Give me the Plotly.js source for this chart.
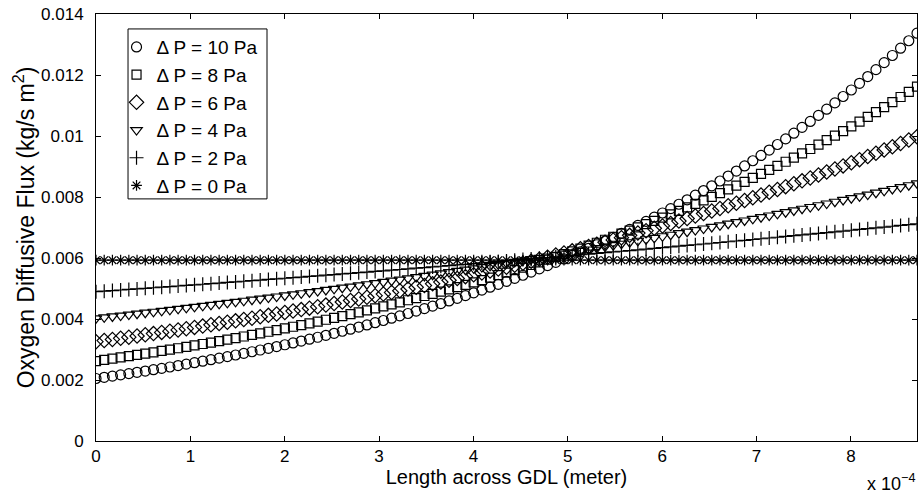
<!DOCTYPE html>
<html>
<head>
<meta charset="utf-8">
<script src="https://cdn.plot.ly/plotly-3.0.1.min.js"></script>
<style>html,body{margin:0;padding:0;background:#fff;}#chart{width:921px;height:497px;}</style>
</head>
<body>
<div id="chart"></div>
<script>
// Length across GDL (meter)
const xLength = [0, 8.7e-6, 1.74e-5, 2.61e-5, 3.48e-5, 4.35e-5, 5.22e-5, 6.09e-5, 6.96e-5, 7.83e-5, 8.7e-5,
9.57e-5, 1.044e-4, 1.131e-4, 1.218e-4, 1.305e-4, 1.392e-4, 1.479e-4, 1.566e-4, 1.653e-4, 1.74e-4,
1.827e-4, 1.914e-4, 2.001e-4, 2.088e-4, 2.175e-4, 2.262e-4, 2.349e-4, 2.436e-4, 2.523e-4, 2.61e-4,
2.697e-4, 2.784e-4, 2.871e-4, 2.958e-4, 3.045e-4, 3.132e-4, 3.219e-4, 3.306e-4, 3.393e-4, 3.48e-4,
3.567e-4, 3.654e-4, 3.741e-4, 3.828e-4, 3.915e-4, 4.002e-4, 4.089e-4, 4.176e-4, 4.263e-4, 4.35e-4,
4.437e-4, 4.524e-4, 4.611e-4, 4.698e-4, 4.785e-4, 4.872e-4, 4.959e-4, 5.046e-4, 5.133e-4, 5.22e-4,
5.307e-4, 5.394e-4, 5.481e-4, 5.568e-4, 5.655e-4, 5.742e-4, 5.829e-4, 5.916e-4, 6.003e-4, 6.09e-4,
6.177e-4, 6.264e-4, 6.351e-4, 6.438e-4, 6.525e-4, 6.612e-4, 6.699e-4, 6.786e-4, 6.873e-4, 6.96e-4,
7.047e-4, 7.134e-4, 7.221e-4, 7.308e-4, 7.395e-4, 7.482e-4, 7.569e-4, 7.656e-4, 7.743e-4, 7.83e-4,
7.917e-4, 8.004e-4, 8.091e-4, 8.178e-4, 8.265e-4, 8.352e-4, 8.439e-4, 8.526e-4, 8.613e-4, 8.7e-4];

// Oxygen diffusive flux (kg/s m^2), one array per pressure difference
const fluxP10 = [0.002050, 0.002089, 0.002128, 0.002169, 0.002210, 0.002252, 0.002294, 0.002338, 0.002382, 0.002427, 0.002473,
0.002520, 0.002568, 0.002616, 0.002666, 0.002716, 0.002767, 0.002820, 0.002873, 0.002927, 0.002983,
0.003039, 0.003097, 0.003155, 0.003215, 0.003276, 0.003338, 0.003401, 0.003465, 0.003531, 0.003598,
0.003666, 0.003735, 0.003806, 0.003878, 0.003951, 0.004026, 0.004102, 0.004180, 0.004259, 0.004340,
0.004422, 0.004506, 0.004591, 0.004678, 0.004766, 0.004857, 0.004949, 0.005042, 0.005138, 0.005235,
0.005334, 0.005435, 0.005538, 0.005643, 0.005750, 0.005859, 0.005970, 0.006083, 0.006198, 0.006315,
0.006435, 0.006557, 0.006681, 0.006807, 0.006936, 0.007067, 0.007201, 0.007337, 0.007476, 0.007618,
0.007762, 0.007909, 0.008059, 0.008211, 0.008367, 0.008525, 0.008686, 0.008851, 0.009018, 0.009189,
0.009363, 0.009540, 0.009721, 0.009905, 0.010092, 0.010283, 0.010478, 0.010676, 0.010878, 0.011085,
0.011295, 0.011509, 0.011727, 0.011949, 0.012175, 0.012405, 0.012640, 0.012879, 0.013123, 0.013371];

const fluxP8 = [0.002620, 0.002659, 0.002699, 0.002740, 0.002781, 0.002823, 0.002865, 0.002908, 0.002952, 0.002996, 0.003041,
0.003087, 0.003133, 0.003180, 0.003228, 0.003276, 0.003325, 0.003375, 0.003426, 0.003477, 0.003529,
0.003582, 0.003636, 0.003691, 0.003746, 0.003802, 0.003859, 0.003917, 0.003976, 0.004036, 0.004096,
0.004158, 0.004220, 0.004283, 0.004348, 0.004413, 0.004479, 0.004546, 0.004614, 0.004684, 0.004754,
0.004825, 0.004898, 0.004971, 0.005046, 0.005121, 0.005198, 0.005276, 0.005355, 0.005436, 0.005518,
0.005601, 0.005685, 0.005770, 0.005857, 0.005945, 0.006034, 0.006124, 0.006216, 0.006310, 0.006404,
0.006500, 0.006598, 0.006697, 0.006797, 0.006899, 0.007003, 0.007108, 0.007214, 0.007323, 0.007432,
0.007544, 0.007657, 0.007772, 0.007889, 0.008007, 0.008127, 0.008249, 0.008373, 0.008499, 0.008626,
0.008756, 0.008887, 0.009020, 0.009156, 0.009293, 0.009433, 0.009574, 0.009718, 0.009864, 0.010011,
0.010162, 0.010314, 0.010469, 0.010626, 0.010786, 0.010948, 0.011112, 0.011279, 0.011448, 0.011619];

const fluxP6 = [0.003256, 0.003293, 0.003330, 0.003367, 0.003405, 0.003443, 0.003482, 0.003521, 0.003561, 0.003601, 0.003642,
0.003683, 0.003725, 0.003767, 0.003809, 0.003852, 0.003895, 0.003939, 0.003983, 0.004028, 0.004073,
0.004119, 0.004165, 0.004212, 0.004260, 0.004308, 0.004356, 0.004405, 0.004455, 0.004505, 0.004556,
0.004607, 0.004659, 0.004711, 0.004764, 0.004818, 0.004872, 0.004927, 0.004983, 0.005039, 0.005096,
0.005153, 0.005211, 0.005270, 0.005329, 0.005389, 0.005450, 0.005511, 0.005573, 0.005636, 0.005700,
0.005764, 0.005829, 0.005894, 0.005961, 0.006028, 0.006096, 0.006164, 0.006234, 0.006304, 0.006375,
0.006447, 0.006519, 0.006593, 0.006667, 0.006742, 0.006818, 0.006895, 0.006972, 0.007051, 0.007130,
0.007210, 0.007292, 0.007374, 0.007457, 0.007541, 0.007626, 0.007712, 0.007798, 0.007886, 0.007975,
0.008065, 0.008155, 0.008247, 0.008340, 0.008434, 0.008529, 0.008625, 0.008722, 0.008820, 0.008920,
0.009020, 0.009122, 0.009225, 0.009329, 0.009434, 0.009540, 0.009647, 0.009756, 0.009866, 0.009977];

const fluxP4 = [0.004023, 0.004053, 0.004083, 0.004113, 0.004144, 0.004175, 0.004206, 0.004237, 0.004269, 0.004301, 0.004333,
0.004365, 0.004398, 0.004431, 0.004464, 0.004497, 0.004530, 0.004564, 0.004598, 0.004632, 0.004667,
0.004702, 0.004737, 0.004772, 0.004808, 0.004844, 0.004880, 0.004916, 0.004953, 0.004990, 0.005026,
0.005064, 0.005102, 0.005140, 0.005178, 0.005216, 0.005255, 0.005294, 0.005334, 0.005373, 0.005413,
0.005453, 0.005494, 0.005535, 0.005576, 0.005618, 0.005660, 0.005702, 0.005744, 0.005787, 0.005830,
0.005873, 0.005917, 0.005961, 0.006005, 0.006050, 0.006095, 0.006141, 0.006186, 0.006232, 0.006279,
0.006326, 0.006373, 0.006421, 0.006468, 0.006517, 0.006565, 0.006614, 0.006663, 0.006713, 0.006763,
0.006813, 0.006864, 0.006915, 0.006967, 0.007019, 0.007071, 0.007124, 0.007177, 0.007230, 0.007284,
0.007338, 0.007393, 0.007448, 0.007503, 0.007559, 0.007615, 0.007672, 0.007729, 0.007787, 0.007845,
0.007903, 0.007962, 0.008021, 0.008081, 0.008141, 0.008202, 0.008263, 0.008324, 0.008386, 0.008450];

const fluxP2 = [0.004895, 0.004913, 0.004932, 0.004950, 0.004969, 0.004987, 0.005006, 0.005025, 0.005044, 0.005063, 0.005082,
0.005101, 0.005120, 0.005139, 0.005159, 0.005178, 0.005198, 0.005217, 0.005237, 0.005256, 0.005276,
0.005296, 0.005316, 0.005336, 0.005356, 0.005376, 0.005396, 0.005416, 0.005437, 0.005457, 0.005477,
0.005498, 0.005518, 0.005539, 0.005560, 0.005581, 0.005602, 0.005623, 0.005644, 0.005665, 0.005686,
0.005708, 0.005729, 0.005751, 0.005772, 0.005794, 0.005816, 0.005837, 0.005859, 0.005881, 0.005904,
0.005926, 0.005948, 0.005970, 0.005993, 0.006015, 0.006038, 0.006061, 0.006084, 0.006106, 0.006129,
0.006152, 0.006175, 0.006198, 0.006222, 0.006245, 0.006269, 0.006292, 0.006316, 0.006340, 0.006363,
0.006387, 0.006411, 0.006435, 0.006459, 0.006483, 0.006508, 0.006532, 0.006557, 0.006581, 0.006606,
0.006631, 0.006656, 0.006681, 0.006706, 0.006731, 0.006756, 0.006782, 0.006807, 0.006833, 0.006858,
0.006884, 0.006910, 0.006936, 0.006962, 0.006988, 0.007014, 0.007041, 0.007067, 0.007094, 0.007120];

const fluxP0 = [0.00593, 0.00593, 0.00593, 0.00593, 0.00593, 0.00593, 0.00593, 0.00593, 0.00593, 0.00593, 0.00593,
0.00593, 0.00593, 0.00593, 0.00593, 0.00593, 0.00593, 0.00593, 0.00593, 0.00593, 0.00593,
0.00593, 0.00593, 0.00593, 0.00593, 0.00593, 0.00593, 0.00593, 0.00593, 0.00593, 0.00593,
0.00593, 0.00593, 0.00593, 0.00593, 0.00593, 0.00593, 0.00593, 0.00593, 0.00593, 0.00593,
0.00593, 0.00593, 0.00593, 0.00593, 0.00593, 0.00593, 0.00593, 0.00593, 0.00593, 0.00593,
0.00593, 0.00593, 0.00593, 0.00593, 0.00593, 0.00593, 0.00593, 0.00593, 0.00593, 0.00593,
0.00593, 0.00593, 0.00593, 0.00593, 0.00593, 0.00593, 0.00593, 0.00593, 0.00593, 0.00593,
0.00593, 0.00593, 0.00593, 0.00593, 0.00593, 0.00593, 0.00593, 0.00593, 0.00593, 0.00593,
0.00593, 0.00593, 0.00593, 0.00593, 0.00593, 0.00593, 0.00593, 0.00593, 0.00593, 0.00593,
0.00593, 0.00593, 0.00593, 0.00593, 0.00593, 0.00593, 0.00593, 0.00593, 0.00593, 0.00593];

const seriesNames = ['\u0394 P = 10 Pa', '\u0394 P = 8 Pa', '\u0394 P = 6 Pa', '\u0394 P = 4 Pa', '\u0394 P = 2 Pa', '\u0394 P = 0 Pa'];
const seriesData = [fluxP10, fluxP8, fluxP6, fluxP4, fluxP2, fluxP0];
const seriesSymbols = ['circle-open', 'square-open', 'diamond-open', 'triangle-down-open', 'cross-thin-open', 'asterisk-open'];
const seriesSizes = [10, 9, 11, 10, 10, 9];

const xTickVals = [0, 1e-4, 2e-4, 3e-4, 4e-4, 5e-4, 6e-4, 7e-4, 8e-4];
const xTickText = ['0', '1', '2', '3', '4', '5', '6', '7', '8'];
const yTickVals = [0, 0.002, 0.004, 0.006, 0.008, 0.01, 0.012, 0.014];
const yTickText = ['0', '0.002', '0.004', '0.006', '0.008', '0.01', '0.012', '0.014'];

const traces = seriesData.map((y, i) => ({
  type: 'scatter',
  mode: 'markers',
  x: xLength,
  y: y,
  name: seriesNames[i],
  marker: {
    symbol: seriesSymbols[i],
    size: seriesSizes[i],
    color: '#000',
    line: {color: '#000', width: 1.2}
  }
}));

const font = 'Liberation Sans, Arial, Helvetica, sans-serif';
const layout = {
  width: 921, height: 497,
  margin: {l: 96, r: 4, t: 14, b: 56},
  paper_bgcolor: '#fff', plot_bgcolor: '#fff',
  font: {family: font, size: 17, color: '#000'},
  showlegend: true,
  legend: {
    x: 0.025, y: 0.967, xanchor: 'left', yanchor: 'top',
    bgcolor: 'rgba(0,0,0,0)', borderwidth: 0,
    font: {family: font, size: 19, color: '#000'},
    itemwidth: 30, itemsizing: 'trace'
  },
  xaxis: {
    range: [0, 8.7e-4],
    tickmode: 'array', tickvals: xTickVals, ticktext: xTickText,
    ticks: 'inside', ticklen: 5, tickwidth: 1, tickcolor: '#000',
    showline: true, linecolor: '#000', linewidth: 1, mirror: 'ticks',
    showgrid: false, zeroline: false,
    tickfont: {size: 17},
    title: {text: 'Length across GDL (meter)', font: {size: 20}, standoff: 2}
  },
  yaxis: {
    range: [0, 0.014],
    tickmode: 'array', tickvals: yTickVals, ticktext: yTickText,
    ticks: 'inside', ticklen: 5, tickwidth: 1, tickcolor: '#000',
    showline: true, linecolor: '#000', linewidth: 1, mirror: 'ticks',
    showgrid: false, zeroline: false,
    tickfont: {size: 17}, ticklabelstandoff: 8,
    title: {text: 'Oxygen Diffusive Flux (kg/s m<sup>2</sup>)', font: {size: 23}, standoff: 0}
  },
  shapes: [{
    type: 'rect', xref: 'paper', yref: 'paper',
    x0: 0.039, x1: 0.2083, y0: 0.567, y1: 0.965,
    line: {color: '#000', width: 1}, fillcolor: 'rgba(0,0,0,0)', layer: 'above'
  }],
  annotations: [{
    xref: 'paper', yref: 'paper', x: 1.0, y: -0.1288,
    xanchor: 'right', yanchor: 'bottom', showarrow: false,
    text: 'x 10<sup>\u22124</sup>', font: {size: 18, color: '#000'}
  }]
};

Plotly.newPlot('chart', traces, layout, {displayModeBar: false, staticPlot: true});
</script>
</body>
</html>
